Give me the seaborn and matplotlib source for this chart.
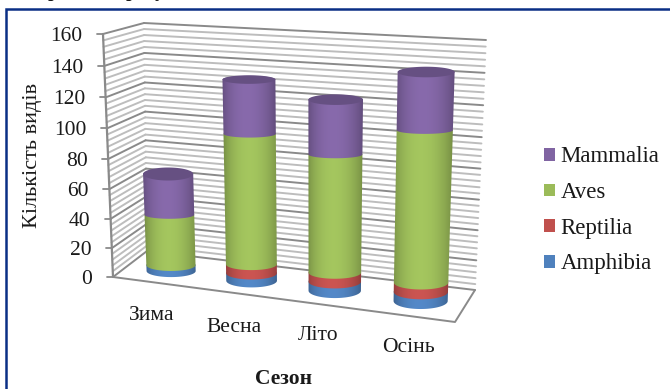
import numpy as np
import pandas as pd
import matplotlib
matplotlib.use("Agg")
import matplotlib.pyplot as plt
from matplotlib.patches import Patch, PathPatch
from matplotlib.path import Path
from matplotlib.transforms import Transform
import seaborn as sns

# Species counts per season, stacked from the bottom up
seasons = ["Зима", "Весна", "Літо", "Осінь"]
taxa = ["Amphibia", "Reptilia", "Aves", "Mammalia"]
amphibia = [4, 5, 6, 6]
reptilia = [0, 6, 6, 6]
aves = [34, 85, 76, 96]
mammalia = [27, 34, 34, 35]
value_ticks = [0, 20, 40, 60, 80, 100, 120, 140, 160]
minor_step = 4
y_title = "Кількість видів"
x_title = "Сезон"

SERIF = "Liberation Serif"
sns.set_theme(style="white")
plt.rcParams["font.family"] = [SERIF, "DejaVu Sans"]
plt.rcParams["text.color"] = "#1a1a1a"
palette = sns.color_palette(["#4f81bd", "#c0504d", "#9bbb59", "#8064a2"])
MAJOR = "#8a8a8a"
MINOR = "#bdbdbd"


class PlaneTransform(Transform):
    """Perspective map from a chart plane (u, value) onto canvas pixels."""
    input_dims = output_dims = 2
    is_separable = False
    has_inverse = False

    def __init__(self, src, dst):
        super().__init__()
        rows, rhs = [], []
        for (x, y), (px, py) in zip(src, dst):
            rows.append([x, y, 1, 0, 0, 0, -x * px, -y * px])
            rows.append([0, 0, 0, x, y, 1, -x * py, -y * py])
            rhs += [px, py]
        h = np.linalg.solve(np.array(rows, float), np.array(rhs, float))
        self.h = np.append(h, 1).reshape(3, 3)

    def transform_non_affine(self, values):
        v = np.column_stack([values, np.ones(len(values))]) @ self.h.T
        return v[:, :2] / v[:, 2:]

    def transform_path_non_affine(self, path):
        return Path(self.transform_non_affine(path.vertices), path.codes)


class WallTransform(PlaneTransform):
    """Wall quad (near-bottom, near-top, far-top, far-bottom) with a slight foreshortening of values."""

    def __init__(self, quad, vmax=160, sag=0.058):
        Transform.__init__(self)
        self.quad = np.array(quad, float)
        self.vmax = vmax
        self.sag = sag

    def transform_non_affine(self, values):
        u, f = values[:, 0:1], values[:, 1:2] / self.vmax
        f = f - self.sag * f * (1 - f)
        nb, nt, ft, fb = self.quad
        near = nb + (nt - nb) * f
        far = fb + (ft - fb) * f
        return near + (far - near) * u


fig = plt.figure(figsize=(6.7, 3.89), dpi=100, facecolor="white")
ax = fig.add_axes([0, 0, 1, 1])
ax.set_xlim(0, 670)
ax.set_ylim(389, 0)
ax.axis("off")

# Chart planes: back wall, side wall, floor, and the plane through the cylinder axes
back = WallTransform([(147, 251), (144, 23), (486, 40), (475, 290)])
side = WallTransform([(113, 277), (103, 34), (144, 23), (147, 251)])
floor = PlaneTransform([(0, 0), (1, 0), (1, 1), (0, 1)],
                       [(113, 277), (455, 322), (475, 290), (147, 251)])
mid = PlaneTransform([(0, 0), (0, 65), (3, 0), (3, 143)],
                     [(171, 271), (168, 174), (420.5, 301), (426, 72)])

# Grid lines on both walls, major lines over minor ones
levels = np.arange(0, 160 + minor_step, minor_step)
for is_major, colour, width in [(False, MINOR, 1.4), (True, MAJOR, 1.4)]:
    for plane in (back, side):
        rows = [{"u": u, "v": v, "line": v}
                for v in levels if (v in value_ticks) == is_major for u in (0, 1)]
        sns.lineplot(data=pd.DataFrame(rows), x="u", y="v", units="line", estimator=None,
                     sort=False, color=colour, linewidth=width, ax=ax,
                     transform=plane + ax.transData, zorder=1)

# Floor outline, value axis and its ticks
ax.plot([0, 1, 1], [0, 0, 1], color=MAJOR, lw=1.4, transform=floor + ax.transData, zorder=2)
ax.plot([0, 0], [0, 160], color=MAJOR, lw=1.6, transform=side + ax.transData, zorder=2)
for v in value_ticks:
    (px, py), = side.transform_non_affine(np.array([[0.0, v]]))
    ax.plot([px - 6, px], [py, py], color=MAJOR, lw=1.3, zorder=2)
    ax.text(px - 20.5, py, str(v), ha="right", va="center_baseline", fontsize=15.5)


def half_depth(y):
    # Cylinder rims open up towards the floor
    return np.interp(y, [130, 220, 270, 300], [3.7, 4.0, 6.0, 8.0])


def rim(cx, cy, a, b, start, stop, n=40):
    t = np.linspace(start, stop, n)
    return np.column_stack([cx + a * np.cos(t), cy + b * np.sin(t)])


def shade(colour, n=120):
    s = np.linspace(0, 1, n)
    k = 0.72 + 0.34 * np.sin(np.pi * s ** 0.9) ** 0.7
    return np.clip(np.outer(k, colour), 0, 1)[None, :, :]


def fill_gradient(vertices, colour, cx, a, zorder):
    patch = PathPatch(Path(np.vstack([vertices, vertices[:1]])), transform=ax.transData,
                      facecolor="none", edgecolor="none")
    ax.add_patch(patch)
    top, bottom = vertices[:, 1].min(), vertices[:, 1].max()
    im = ax.imshow(shade(colour), extent=[cx - a - 1, cx + a + 1, bottom + 1, top - 1],
                   aspect="auto", interpolation="bilinear", zorder=zorder)
    im.set_clip_path(patch)


cap_depth = [6.5, 4.3, 5.3, 5.3]
bar_half_width = 0.31
stacks = np.array([amphibia, reptilia, aves, mammalia], float)
for i, season in enumerate(seasons):
    base = 0.0
    z = 3 + i
    for k, colour in enumerate(palette):
        h = stacks[k, i]
        if h == 0:
            continue
        ends = mid.transform_non_affine(np.array(
            [[i - bar_half_width, base], [i + bar_half_width, base],
             [i - bar_half_width, base + h], [i + bar_half_width, base + h]], float))
        xb, yb = ends[:2].mean(axis=0)
        xt, yt = ends[2:].mean(axis=0)
        ab = (ends[1, 0] - ends[0, 0]) / 2
        at = (ends[3, 0] - ends[2, 0]) / 2
        outline = np.vstack([
            rim(xb, yb, ab, half_depth(yb), np.pi, 0),
            rim(xt, yt, at, half_depth(yt), 0, -np.pi),
        ])
        fill_gradient(outline, colour, (xb + xt) / 2, max(ab, at) + abs(xt - xb) / 2, z + k * 0.01)
        base += h
    # Flat darker lid on the top of the stack
    lid = rim(xt, yt, at, cap_depth[i], 0, 2 * np.pi, 80)
    ax.fill(lid[:, 0], lid[:, 1], color=np.array(palette[-1]) * 0.80, lw=0, zorder=z + 0.5)

# Season names under the floor's front edge
season_label_xy = [(152, 315), (234, 327), (318, 336), (408, 347)]
for name, (lx, ly) in zip(seasons, season_label_xy):
    ax.text(lx, ly, name, ha="center", va="center", fontsize=15.5)

ax.text(33, 155, y_title, rotation=90, ha="center", va="center", fontsize=16)
ax.text(284, 379, x_title, ha="center", va="center", fontsize=15.5, fontweight="bold")

handles = [Patch(facecolor=c, edgecolor="none") for c in palette[::-1]]
legend = ax.legend(handles, taxa[::-1], loc="upper left", frameon=False, fontsize=16.5,
                   bbox_to_anchor=(544 / 670, 1 - 146.5 / 389), bbox_transform=ax.transAxes,
                   borderaxespad=0, borderpad=0, handlelength=0.48, handleheight=0.48,
                   handletextpad=0.25, labelspacing=0.64)

# Navy frame around the chart, open to the right and below
ax.plot([6, 6, 670], [389, 9, 9], color="#0a2f85", lw=1.8, zorder=10, solid_joinstyle="miter")

# Last line of the caption above, cut off by the top edge
for glyph, gx in [("р", 53), ("р", 131), ("у", 160), ("[", 220), ("]", 245)]:
    ax.text(gx, -3, glyph, ha="center", va="baseline", fontsize=14, fontweight="bold", clip_on=True)

ax.set_xlabel("")
ax.set_ylabel("")
ax.set_xlim(0, 670)
ax.set_ylim(389, 0)
fig.savefig("out.png", dpi=100, facecolor="white")
